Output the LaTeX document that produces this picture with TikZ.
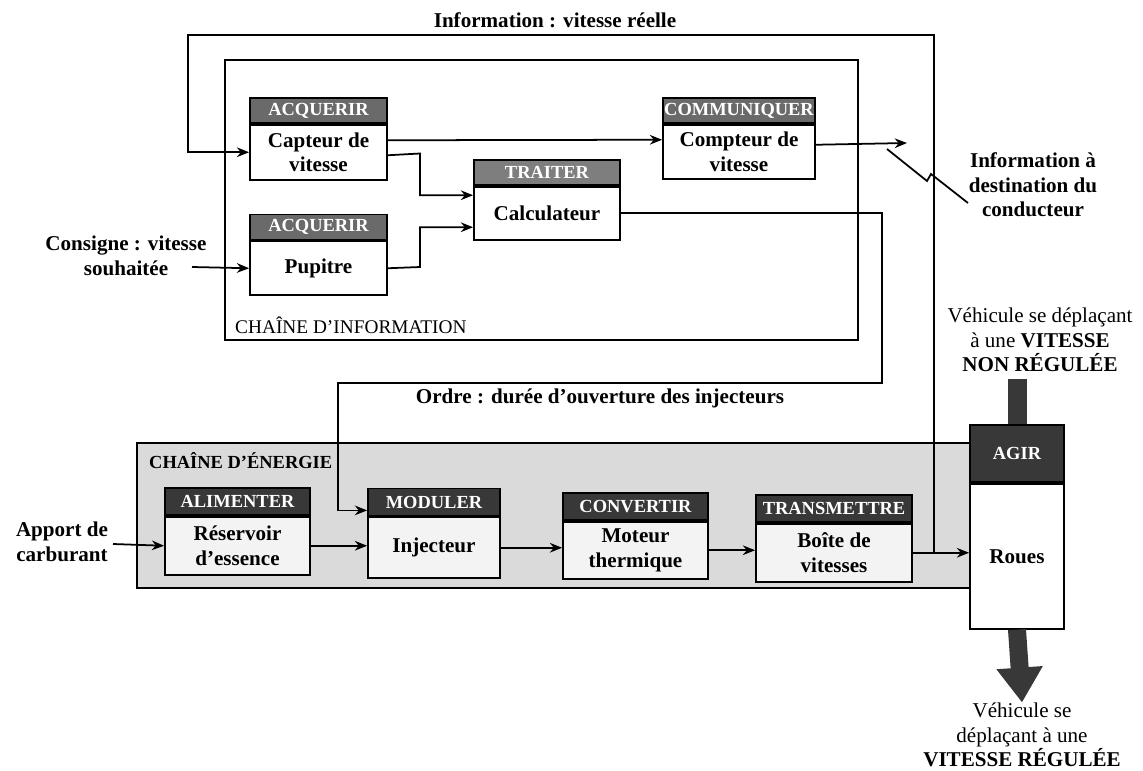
\documentclass[tikz,border=0pt]{standalone}
\usepackage{fontspec}
\setmainfont{Liberation Serif}
\usetikzlibrary{positioning,calc,arrows.meta}
\definecolor{grisinfo}{HTML}{6A6A6A}
\definecolor{gristrait}{HTML}{7E7E7E}
\definecolor{grisener}{HTML}{383838}
\definecolor{fondener}{HTML}{DADADA}
\definecolor{fondbloc}{HTML}{F3F3F3}
\tikzset{
  entete/.style={draw,line width=1pt,fill=grisinfo,text=white,font=\fontsize{10.5}{12}\selectfont\bfseries,inner sep=0pt,minimum height=0.5cm},
  entener/.style={entete,fill=grisener,minimum height=0.54cm},
  corps/.style={draw,line width=1pt,fill=white,font=\fontsize{12}{14}\selectfont\bfseries,align=center,inner sep=0pt},
  corpsener/.style={corps,fill=fondbloc},
  etiq/.style={font=\fontsize{12}{14}\selectfont\bfseries,align=center,inner sep=0pt},
  fleche/.style={->,line width=1pt},
  grosse/.style={-{Triangle[width=0.88cm,length=0.7cm]},line width=0.36cm,draw=grisener}
}
\begin{document}
\begin{tikzpicture}[x=0.02cm,y=-0.02cm,>={Stealth[length=7pt,width=5.5pt]}]
\useasboundingbox (0,0) rectangle (1143,771);
\draw[line width=1pt](225,60) rectangle (858,340);
\node[anchor=west,font=\fontsize{11}{13}\selectfont] (chinfo) at (229,325) {CHAÎNE D'INFORMATION};
\draw[line width=1pt,fill=fondener](137,443) rectangle (972,588);
\node[anchor=west,font=\fontsize{10.5}{12}\selectfont\bfseries] (chener) at (143,461) {CHAÎNE D'ÉNERGIE};
\node[entete,minimum width=2.74cm] (hcapt) at (318.5,110.5) {ACQUERIR};
\node[corps,minimum width=2.74cm,minimum height=1.1cm,below=0pt of hcapt] (capt) {Capteur de\\vitesse};
\node[entete,minimum width=2.74cm] (hpup) at (318.5,227) {ACQUERIR};
\node[corps,minimum width=2.74cm,minimum height=1.08cm,below=0pt of hpup] (pup) {Pupitre};
\node[entete,fill=gristrait,minimum width=2.92cm] (hcalc) at (547,172.5) {TRAITER};
\node[corps,minimum width=2.92cm,minimum height=1.06cm,below=0pt of hcalc] (calc) {Calculateur};
\node[entete,minimum width=3.04cm] (hcompt) at (739,110.5) {COMMUNIQUER};
\node[corps,minimum width=3.04cm,minimum height=1.08cm,below=0pt of hcompt] (compt) {Compteur de\\vitesse};
\node[entener,minimum width=2.9cm] (halim) at (237.5,501.5) {ALIMENTER};
\node[corpsener,minimum width=2.9cm,minimum height=1.16cm,below=0pt of halim] (alim) {Réservoir\\d'essence};
\node[entener,minimum width=2.64cm] (modh) at (434,502) {MODULER};
\node[corpsener,minimum width=2.64cm,minimum height=1.22cm,below=0pt of modh] (mod) {Injecteur};
\node[entener,minimum width=2.9cm] (hconv) at (635.5,506.5) {CONVERTIR};
\node[corpsener,minimum width=2.9cm,minimum height=1.14cm,below=0pt of hconv] (conv) {Moteur\\thermique};
\node[entener,minimum width=3.12cm] (hboite) at (834,508.5) {TRANSMETTRE};
\node[corpsener,minimum width=3.12cm,minimum height=1.16cm,below=0pt of hboite] (boite) {Boîte de\\vitesses};
\node[entener,minimum width=1.88cm,minimum height=1.14cm] (agirh) at (1017,453.5) {AGIR};
\node[corps,fill=white,minimum width=1.88cm,minimum height=2.9cm,below=0pt of agirh] (roues) {Roues};
\node[etiq] (vitreel) at (555,20) {Information : vitesse réelle};
\node[etiq] (consigne) at (126,256) {Consigne : vitesse\\souhaitée};
\node[etiq] (infocond) at (1033,185) {Information à\\destination du\\conducteur};
\node[etiq] (ordre) at (600,398) {Ordre : durée d'ouverture des injecteurs};
\node[etiq] (apport) at (62,542) {Apport de\\carburant};
\node[etiq] (nonreg) at (1040,340) {{\mdseries Véhicule se déplaçant}\\{\mdseries à une} VITESSE\\NON RÉGULÉE};
\node[etiq] (reg) at (1022,735) {{\mdseries Véhicule se}\\{\mdseries déplaçant à une}\\VITESSE RÉGULÉE};
\coordinate (consE) at (192,267);
\coordinate (apportE) at (113,544);
\coordinate (conduc) at (907,143);
\path (boite.east) ++(21,0) coordinate (retour);
\draw[fleche](consE)--(pup.west);
\draw[fleche]($(capt.east)+(0,-12)$)--($(compt.west)+(0,-12)$);
\draw[fleche]($(capt.east)+(0,3)$)--(420,153.5)|-($(calc.west)+(0,-18)$);
\draw[fleche](pup.east)--(420,267)|-($(calc.west)+(0,14)$);
\draw[fleche]($(compt.east)+(0,-7)$)--(conduc);
\draw[line width=1pt](887,149)--(927,181)--(931,174)--(968,203);
\draw[fleche](calc.east)-|(882,383)--(338,383)|-($(modh.south west)+(0,-6)$);
\draw[fleche](apportE)--(alim.west);
\draw[fleche](alim.east)--(alim.east-|mod.west);
\draw[fleche](mod.east)--(mod.east-|conv.west);
\draw[fleche](conv.east)--(conv.east-|boite.west);
\draw[fleche](boite.east)--(boite.east-|roues.west);
\draw[fleche](retour)|-(188,35)|-(capt.west);
\draw[line width=0.38cm,draw=grisener]($(agirh.north|-nonreg.south)+(0,7)$)--(agirh.north);
\draw[grosse](roues.south)--(reg.north);
    \end{tikzpicture}
\end{document}
